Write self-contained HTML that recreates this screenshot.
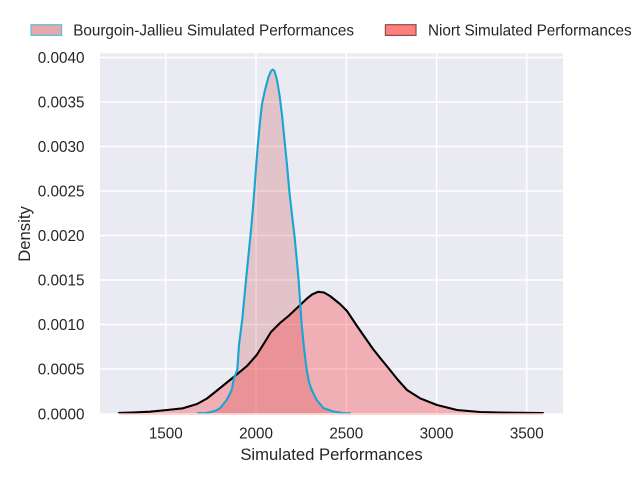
<!DOCTYPE html>
<html>
<head>
<meta charset="utf-8">
<style>
  html, body { margin: 0; padding: 0; background: #ffffff; }
  svg { display: block; }
  text { font-family: "Liberation Sans", Arial, sans-serif; fill: #262626; }
</style>
</head>
<body>
<svg width="640" height="480" viewBox="0 0 640 480" xmlns="http://www.w3.org/2000/svg">
  <defs>
    <clipPath id="ax">
      <rect x="100" y="53.3" width="463" height="360"/>
    </clipPath>
  </defs>

  <!-- axes background -->
  <rect x="100" y="53.3" width="463" height="360" fill="#eaeaf2"/>

  <!-- gridlines -->
  <g stroke="#ffffff" stroke-width="1.4">
    <line x1="100" x2="563" y1="57.5" y2="57.5"/>
    <line x1="100" x2="563" y1="102" y2="102"/>
    <line x1="100" x2="563" y1="146.5" y2="146.5"/>
    <line x1="100" x2="563" y1="191" y2="191"/>
    <line x1="100" x2="563" y1="235.5" y2="235.5"/>
    <line x1="100" x2="563" y1="280" y2="280"/>
    <line x1="100" x2="563" y1="324.5" y2="324.5"/>
    <line x1="100" x2="563" y1="369" y2="369"/>
    <line x1="165.8" x2="165.8" y1="53.3" y2="413.3"/>
    <line x1="256.05" x2="256.05" y1="53.3" y2="413.3"/>
    <line x1="346.3" x2="346.3" y1="53.3" y2="413.3"/>
    <line x1="436.55" x2="436.55" y1="53.3" y2="413.3"/>
    <line x1="526.8" x2="526.8" y1="53.3" y2="413.3"/>
  </g>

  <g clip-path="url(#ax)">
    <!-- BJ fill -->
    <path fill="rgba(202,80,84,0.25)" d="M205,413.3 L210,412.3 L216,410.5 L220,408.3 L226.7,400 L231.7,390 L234,378 L237.3,370 L239,345 L242.4,318 L246,280 L249,250 L251.5,225 L254,195 L256,168 L258,143 L260,122 L262,104 L265,90 L268.5,77 L271,71 L272.7,69.5 L274.5,71 L277,80 L279.5,95 L282,115 L284.5,140 L287,165 L289.5,193 L292,215 L294.5,236 L297,262 L298.6,280 L301.7,325 L304,348 L306.7,370 L309,382 L311.7,390 L316.7,400 L323.3,408 L333,411.5 L343,413 L343,413.3 Z"/>
    <!-- Niort fill -->
    <path fill="rgba(255,0,0,0.25)" d="M119,413.3 L119,412.9 L135,412.4 L150,411.7 L167,410 L183,408.3 L197,404 L207,398.5 L217,390.5 L230,380 L247,366 L256.7,355 L263,345 L271,332 L280,323 L289,315.5 L297,308 L307,298.5 L312,294.5 L318,291.8 L324,292.5 L330,296 L340,304 L347,311 L357,326 L365,337.5 L373,349 L381,359 L390,370 L398,380 L407,390 L420,398.3 L437,405 L457,410 L480,412 L500,412.5 L520,412.8 L543,413 L543,413.3 Z"/>
    <!-- Niort line -->
    <polyline fill="none" stroke="#000000" stroke-width="2.1" stroke-linejoin="round" stroke-linecap="round" points="119,412.9 135,412.4 150,411.7 167,410 183,408.3 197,404 207,398.5 217,390.5 230,380 247,366 256.7,355 263,345 271,332 280,323 289,315.5 297,308 307,298.5 312,294.5 318,291.8 324,292.5 330,296 340,304 347,311 357,326 365,337.5 373,349 381,359 390,370 398,380 407,390 420,398.3 437,405 457,410 480,412 500,412.5 520,412.8 543,413"/>
    <!-- BJ line -->
    <polyline fill="none" stroke="#17a6d4" stroke-width="2.1" stroke-linejoin="round" stroke-linecap="round" points="198,413.1 205,413 210,412.3 216,410.5 220,408.3 226.7,400 231.7,390 234,378 237.3,370 239,345 242.4,318 246,280 249,250 251.5,225 254,195 256,168 258,143 260,122 262,104 265,90 268.5,77 271,71 272.7,69.5 274.5,71 277,80 279.5,95 282,115 284.5,140 287,165 289.5,193 292,215 294.5,236 297,262 298.6,280 301.7,325 304,348 306.7,370 309,382 311.7,390 316.7,400 323.3,408 333,411.5 343,413 350,413.2"/>
  </g>

  <!-- pink bottom edge of Niort fill -->
  <line x1="119" x2="543" y1="414.2" y2="414.2" stroke="rgba(255,0,0,0.18)" stroke-width="1.6"/>

  <!-- y tick labels -->
  <g font-size="15.28" text-anchor="end">
    <text x="84.5" y="63">0.0040</text>
    <text x="84.5" y="107.5">0.0035</text>
    <text x="84.5" y="152">0.0030</text>
    <text x="84.5" y="196.5">0.0025</text>
    <text x="84.5" y="241">0.0020</text>
    <text x="84.5" y="285.5">0.0015</text>
    <text x="84.5" y="330">0.0010</text>
    <text x="84.5" y="374.5">0.0005</text>
    <text x="84.5" y="419.5">0.0000</text>
  </g>

  <!-- x tick labels -->
  <g font-size="15.28" text-anchor="middle">
    <text x="165.8" y="438.3">1500</text>
    <text x="256.05" y="438.3">2000</text>
    <text x="346.3" y="438.3">2500</text>
    <text x="436.55" y="438.3">3000</text>
    <text x="526.8" y="438.3">3500</text>
  </g>

  <!-- axis labels -->
  <text x="331.5" y="460" font-size="16.67" text-anchor="middle">Simulated Performances</text>
  <text transform="translate(30,234) rotate(-90)" x="0" y="0" font-size="16.67" text-anchor="middle">Density</text>

  <!-- legend -->
  <rect x="31" y="24.7" width="30.6" height="10.7" fill="#e6a8ab" stroke="#5bbfe0" stroke-width="1.2"/>
  <text x="73.2" y="35.6" font-size="15.28">Bourgoin-Jallieu Simulated Performances</text>
  <rect x="385.4" y="24.7" width="30.6" height="10.7" fill="#ff7f7f" stroke="#8c4a4a" stroke-width="1.2"/>
  <text x="428" y="35.6" font-size="15.28">Niort Simulated Performances</text>
</svg>
</body>
</html>
